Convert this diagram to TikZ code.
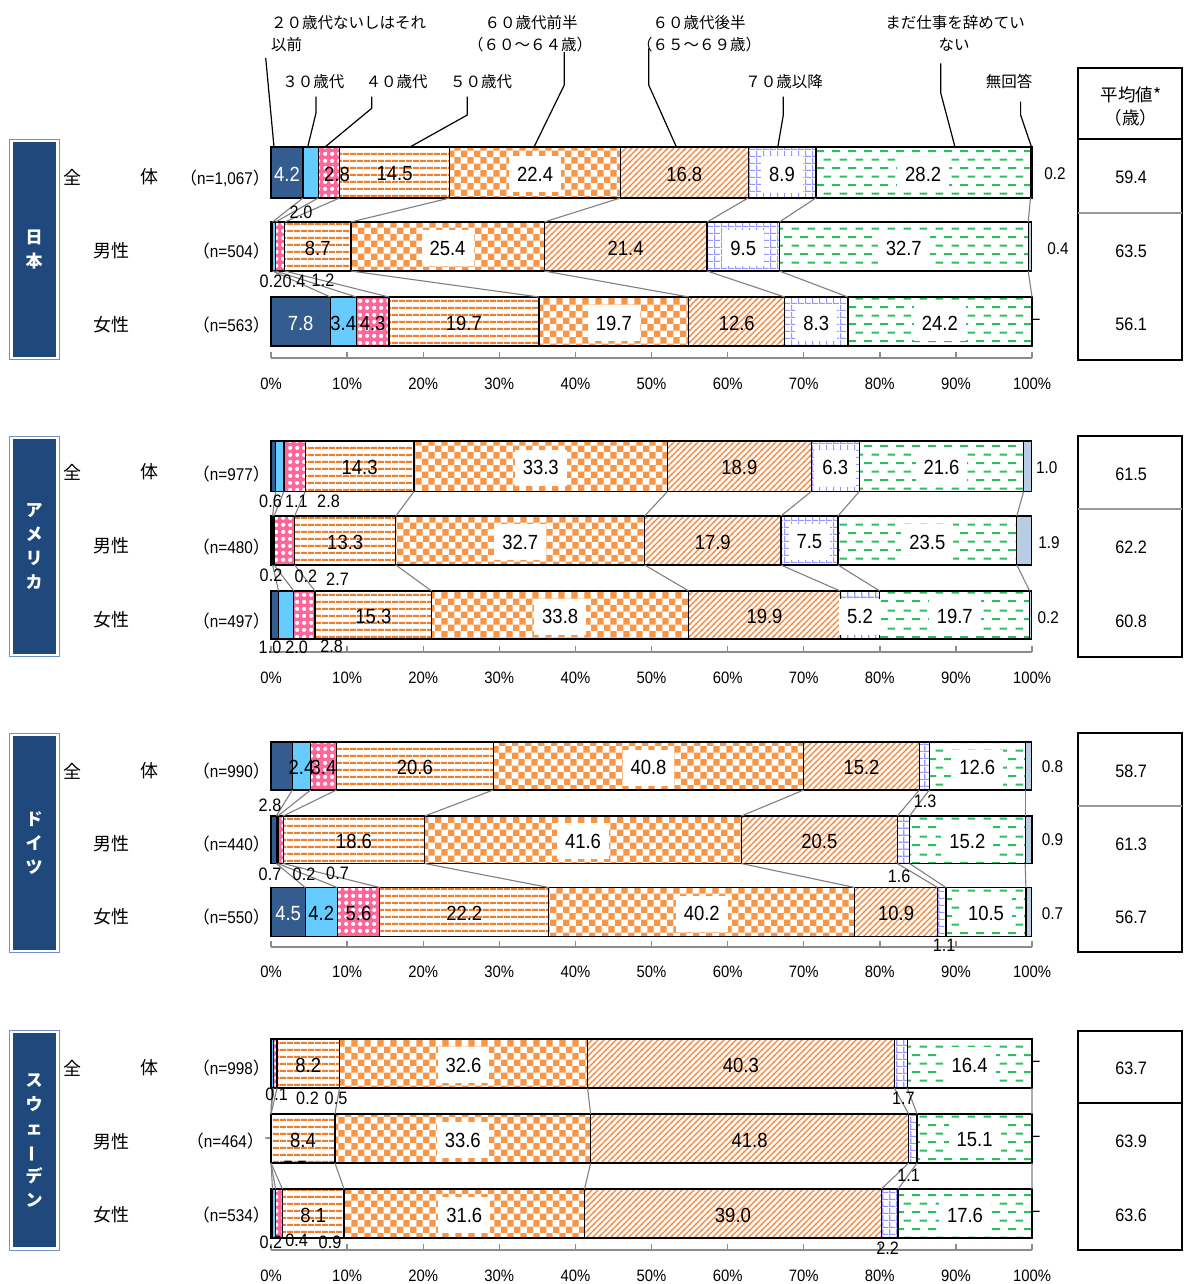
\documentclass[tikz,border=0pt]{standalone}
\usepackage{fontspec}
\setmainfont{Liberation Sans}
\newfontfamily\jp{Noto Sans CJK JP}
\newfontfamily\numf[FakeStretch=0.9]{Liberation Sans}
\usetikzlibrary{patterns}
\newcommand\fsz[1]{\fontsize{#1}{#1}\selectfont}
\definecolor{c1}{RGB}{52,92,142}
\definecolor{c2}{RGB}{102,204,255}
\definecolor{c3}{RGB}{255,102,153}
\definecolor{c4}{RGB}{240,125,40}
\definecolor{c5}{RGB}{247,150,70}
\definecolor{c6}{RGB}{240,135,60}
\definecolor{c7}{RGB}{150,150,255}
\definecolor{c8}{RGB}{45,190,95}
\definecolor{c9}{RGB}{185,205,228}
\definecolor{boxnavy}{RGB}{31,73,125}
\definecolor{boxedge}{RGB}{110,145,200}
\definecolor{sergray}{RGB}{128,128,128}
\definecolor{axisgray}{RGB}{140,140,140}
\pgfdeclarepatternformonly{hstripes}{\pgfpointorigin}{\pgfqpoint{7pt}{7pt}}{\pgfqpoint{7pt}{7pt}}{%
  \pgfpathrectangle{\pgfqpoint{0pt}{2.4pt}}{\pgfqpoint{7pt}{2.2pt}}\pgfusepath{fill}}
\pgfdeclarepatternformonly{checker}{\pgfpointorigin}{\pgfqpoint{12.8pt}{12.8pt}}{\pgfqpoint{12.8pt}{12.8pt}}{%
  \pgfpathrectangle{\pgfpointorigin}{\pgfqpoint{6.4pt}{6.4pt}}%
  \pgfpathrectangle{\pgfqpoint{6.4pt}{6.4pt}}{\pgfqpoint{6.4pt}{6.4pt}}\pgfusepath{fill}}
\pgfdeclarepatternformonly{diaghatch}{\pgfqpoint{-1pt}{-1pt}}{\pgfqpoint{7pt}{7pt}}{\pgfqpoint{6pt}{6pt}}{%
  \pgfsetlinewidth{1.1pt}\pgfpathmoveto{\pgfqpoint{-0.5pt}{-0.5pt}}\pgfpathlineto{\pgfqpoint{6.5pt}{6.5pt}}\pgfusepath{stroke}}
\pgfdeclarepatternformonly{gridp}{\pgfpointorigin}{\pgfqpoint{7pt}{7pt}}{\pgfqpoint{7pt}{7pt}}{%
  \pgfpathrectangle{\pgfpointorigin}{\pgfqpoint{7pt}{1.4pt}}%
  \pgfpathrectangle{\pgfpointorigin}{\pgfqpoint{1.4pt}{7pt}}\pgfusepath{fill}}
\pgfdeclarepatternformonly{gdash}{\pgfpointorigin}{\pgfqpoint{16pt}{17.4pt}}{\pgfqpoint{16pt}{17.4pt}}{%
  \pgfpathrectangle{\pgfqpoint{0pt}{3pt}}{\pgfqpoint{8.5pt}{2pt}}%
  \pgfpathrectangle{\pgfqpoint{8pt}{11.7pt}}{\pgfqpoint{8pt}{2pt}}\pgfusepath{fill}}
\pgfdeclarepatternformonly{bubbles}{\pgfpointorigin}{\pgfqpoint{7pt}{7pt}}{\pgfqpoint{7pt}{7pt}}{%
  \pgfpathcircle{\pgfqpoint{3.5pt}{3.5pt}}{2.3pt}\pgfusepath{fill}}
\newcommand\segpath[5]{%
  \ifcase#1\or
    \fill[c1] (#2,#4) rectangle (#3,#5);%
  \or
    \fill[c2] (#2,#4) rectangle (#3,#5);%
  \or
    \fill[c3] (#2,#4) rectangle (#3,#5);%
    \fill[pattern=bubbles,pattern color=white] (#2,#4) rectangle (#3,#5);%
  \or
    \fill[white] (#2,#4) rectangle (#3,#5);%
    \fill[pattern=hstripes,pattern color=c4] (#2,#4) rectangle (#3,#5);%
  \or
    \fill[white] (#2,#4) rectangle (#3,#5);%
    \fill[pattern=checker,pattern color=c5] (#2,#4) rectangle (#3,#5);%
  \or
    \fill[white] (#2,#4) rectangle (#3,#5);%
    \fill[pattern=diaghatch,pattern color=c6] (#2,#4) rectangle (#3,#5);%
  \or
    \fill[white] (#2,#4) rectangle (#3,#5);%
    \fill[pattern=gridp,pattern color=c7] (#2,#4) rectangle (#3,#5);%
  \or
    \fill[white] (#2,#4) rectangle (#3,#5);%
    \fill[pattern=gdash,pattern color=c8] (#2,#4) rectangle (#3,#5);%
  \or
    \fill[c9] (#2,#4) rectangle (#3,#5);%
  \fi}
\newcommand\drawbar[4]{%
  \gdef\cum{0}%
  \foreach \val [count=\i] in {#4} {%
    \pgfmathsetmacro\xa{271+7.61*\cum}%
    \pgfmathsetmacro\nc{\cum+\val}%
    \pgfmathsetmacro\xb{271+7.61*\nc}%
    \xdef\cum{\nc}%
    \segpath{\i}{\xa}{\xb}{#2}{#3}%
    \draw[segline] (\xa,#2) rectangle (\xb,#3);%
    \coordinate (#1-\i-t) at (\xb,#2);%
    \coordinate (#1-\i-b) at (\xb,#3);%
    \coordinate (#1-\i-c) at ({(\xa+\xb)/2},{(#2+#3)/2});%
  }%
}
\newcommand\ilab[4][vlab]{\node[#1] (L-#2-#3) at (#2-#3-c) {#4};}
\newcommand\serlines[2]{\foreach \k in {1,...,8} {\draw[serline] (#1-\k-b) -- (#2-\k-t);}}
\newcommand\drawaxis[3]{%
  \draw[axisline] (271,#2) -- (1032,#2);
  \foreach \k in {0,...,10} {%
    \pgfmathsetmacro\tx{271+76.1*\k}%
    \pgfmathtruncatemacro\pc{10*\k}%
    \draw[axisline] (\tx,{#2-5.6}) -- (\tx,#2);
    \node[alab] (#1-ax-\k) at (\tx,#3) {\pc\%};
  }}
\newcommand\rowlabs[4]{%
  \node[rlab] (#1-r1a) at (72,#2) {全};
  \node[rlab] (#1-r1b) at (149,#2) {体};
  \node[rlab] (#1-r2) at (111,#3) {男性};
  \node[rlab] (#1-r3) at (111,#4) {女性};}
\newcommand\cbox[4]{%
  \draw[boxedge, line width=0.9pt] (9.5,#2) rectangle (59.3,#3);
  \fill[boxnavy] (12.7,{#2+3}) rectangle (56,{#3-3});
  \node[ctext] (#1-ctry) at (34.2,{(#2+#3)/2}) {#4};}
\newcommand\meanframe[4]{%
  \draw[meanbox] (1078,#2) rectangle (1182,#3);
  \draw[#4, line width=2pt] (1078,#1) -- (1182,#1);}
\tikzset{
 segline/.style={line width=1.3pt, black},
 serline/.style={draw=sergray, line width=1.1pt},
 leader/.style={line width=1.2pt, black},
 vlab/.style={font=\numf\fsz{20.5}, inner sep=0pt, yshift=-1.5pt},
 wlab/.style={vlab, text=white},
 blab/.style={vlab, fill=white, inner xsep=8pt, inner ysep=0pt, minimum height=36pt},
 slab/.style={font=\numf\fsz{18}, inner sep=0pt},
 elab/.style={font=\numf\fsz{17}, inner sep=0pt},
 mlab/.style={font=\numf\fsz{18}, inner sep=0pt},
 alab/.style={font=\numf\fsz{16.5}, inner sep=0pt},
 nlab/.style={font=\numf\fsz{17}, inner sep=0pt, anchor=east},
 rlab/.style={font=\jp\fsz{18}, inner sep=0pt},
 glab/.style={font=\jp\fsz{15.5}, inner sep=0pt},
 ctext/.style={font=\jp\bfseries\fontsize{17}{24}\selectfont, text=white, align=center, inner sep=0pt},
 meanbox/.style={line width=2pt, black},
 axisline/.style={draw=axisgray, line width=1.4pt},
}
\begin{document}
\begin{tikzpicture}[x=1pt,y=-1pt]
\useasboundingbox (0,0) rectangle (1184,1284);
\fill[white] (0,0) rectangle (1184,1284);

% country boxes
\cbox{jp}{139.5}{359.5}{日\\本}
\cbox{us}{436}{656.5}{ア\\メ\\リ\\カ}
\cbox{de}{733}{952.5}{ド\\イ\\ツ}
\cbox{se}{1030}{1250}{ス\\ウ\\ェ\\\rotatebox[origin=c]{90}{ー}\\デ\\ン}

% row labels
\rowlabs{jp}{177}{251}{325}
\rowlabs{us}{472}{546}{620}
\rowlabs{de}{771}{844}{917}
\rowlabs{se}{1068}{1142}{1215}

\node[nlab] (n-jpA) at (270,178) {{\jp （}n=1,067{\jp ）}};
\node[nlab] (n-jpM) at (270,251.5) {{\jp （}n=504{\jp ）}};
\node[nlab] (n-jpF) at (270,325) {{\jp （}n=563{\jp ）}};
\node[nlab] (n-usA) at (270,474) {{\jp （}n=977{\jp ）}};
\node[nlab] (n-usM) at (270,547.5) {{\jp （}n=480{\jp ）}};
\node[nlab] (n-usF) at (270,621) {{\jp （}n=497{\jp ）}};
\node[nlab] (n-deA) at (270,771.5) {{\jp （}n=990{\jp ）}};
\node[nlab] (n-deM) at (270,844.5) {{\jp （}n=440{\jp ）}};
\node[nlab] (n-deF) at (270,917.5) {{\jp （}n=550{\jp ）}};
\node[nlab] (n-seA) at (270,1068.5) {{\jp （}n=998{\jp ）}};
\node[nlab] (n-seM) at (264,1141.5) {{\jp （}n=464{\jp ）}};
\node[nlab] (n-seF) at (270,1215) {{\jp （}n=534{\jp ）}};

% bars
\drawbar{jpA}{147}{198}{4.2,2.0,2.8,14.5,22.4,16.8,8.9,28.2,0.2}
\drawbar{jpM}{222}{271}{0.2,0.4,1.2,8.7,25.4,21.4,9.5,32.7,0.4}
\drawbar{jpF}{297}{346}{7.8,3.4,4.3,19.7,19.7,12.6,8.3,24.2,0}
\drawbar{usA}{441}{491.5}{0.6,1.1,2.8,14.3,33.3,18.9,6.3,21.6,1.0}
\drawbar{usM}{516}{565}{0.2,0.2,2.7,13.3,32.7,17.9,7.5,23.5,1.9}
\drawbar{usF}{591}{639}{1.0,2.0,2.8,15.3,33.8,19.9,5.2,19.7,0.2}
\drawbar{deA}{742}{790}{2.8,2.4,3.4,20.6,40.8,15.2,1.3,12.6,0.8}
\drawbar{deM}{816}{863.5}{0.7,0.2,0.7,18.6,41.6,20.5,1.6,15.2,0.9}
\drawbar{deF}{887.5}{936.5}{4.5,4.2,5.6,22.2,40.2,10.9,1.1,10.5,0.7}
\drawbar{seA}{1039}{1088}{0.1,0.2,0.5,8.2,32.6,40.3,1.7,16.4,0}
\drawbar{seM}{1114}{1163}{0,0,0,8.4,33.6,41.8,1.1,15.1,0}
\drawbar{seF}{1189}{1238}{0.2,0.4,0.9,8.1,31.6,39.0,2.2,17.6,0}

% series lines
\serlines{jpA}{jpM}\serlines{jpM}{jpF}
\serlines{usA}{usM}\serlines{usM}{usF}
\serlines{deA}{deM}\serlines{deM}{deF}
\serlines{seA}{seM}\serlines{seM}{seF}

% axes
\drawaxis{jp}{358}{383.5}
\drawaxis{us}{652}{677.5}
\drawaxis{de}{947}{972}
\drawaxis{se}{1250}{1275.5}

% Japan labels
\ilab[wlab]{jpA}{1}{4.2}
\node[vlab] (L-jpA-3) at (337,172.5) {2.8};
\ilab{jpA}{4}{14.5}\ilab[blab]{jpA}{5}{22.4}\ilab{jpA}{6}{16.8}
\ilab[blab]{jpA}{7}{8.9}\ilab[blab]{jpA}{8}{28.2}
\node[slab] (o-jpA-2) at (301,212) {2.0};
\node[elab] (o-jpA-9) at (1055,174) {0.2};
\ilab{jpM}{4}{8.7}\ilab[blab]{jpM}{5}{25.4}\ilab{jpM}{6}{21.4}
\ilab[blab]{jpM}{7}{9.5}\ilab[blab]{jpM}{8}{32.7}
\node[slab] (o-jpM-1) at (271,281.5) {0.2};
\node[slab] (o-jpM-2) at (294,281.5) {0.4};
\node[slab] (o-jpM-3) at (323,280.5) {1.2};
\node[elab] (o-jpM-9) at (1058,249) {0.4};
\ilab[wlab]{jpF}{1}{7.8}\ilab{jpF}{2}{3.4}\ilab{jpF}{3}{4.3}
\ilab{jpF}{4}{19.7}\ilab[blab]{jpF}{5}{19.7}\ilab{jpF}{6}{12.6}
\ilab[blab]{jpF}{7}{8.3}\ilab[blab]{jpF}{8}{24.2}
\node[elab] (o-jpF-9) at (1036,322) {−};

% America labels
\ilab{usA}{4}{14.3}\ilab[blab]{usA}{5}{33.3}\ilab{usA}{6}{18.9}
\ilab[blab]{usA}{7}{6.3}\ilab[blab]{usA}{8}{21.6}
\node[slab] (o-usA-1) at (270.5,501.5) {0.6};
\node[slab] (o-usA-2) at (296.3,501.5) {1.1};
\node[slab] (o-usA-3) at (328.5,501.5) {2.8};
\node[elab] (o-usA-9) at (1046.7,467.5) {1.0};
\ilab{usM}{4}{13.3}\ilab[blab]{usM}{5}{32.7}\ilab{usM}{6}{17.9}
\ilab[blab]{usM}{7}{7.5}\ilab[blab]{usM}{8}{23.5}
\node[slab] (o-usM-1) at (271,575.7) {0.2};
\node[slab] (o-usM-2) at (305.8,576.7) {0.2};
\node[slab] (o-usM-3) at (337.5,579) {2.7};
\node[elab] (o-usM-9) at (1049,542.7) {1.9};
\ilab{usF}{4}{15.3}\ilab[blab]{usF}{5}{33.8}\ilab{usF}{6}{19.9}
\ilab[blab]{usF}{7}{5.2}\ilab[blab]{usF}{8}{19.7}
\node[slab] (o-usF-1) at (270,647.3) {1.0};
\node[slab] (o-usF-2) at (296.7,647) {2.0};
\node[slab] (o-usF-3) at (331.7,646) {2.8};
\node[elab] (o-usF-9) at (1048.3,617.7) {0.2};

% Germany labels
\ilab{deA}{2}{2.4}\ilab{deA}{3}{3.4}
\ilab{deA}{4}{20.6}\ilab[blab]{deA}{5}{40.8}\ilab{deA}{6}{15.2}
\ilab[blab]{deA}{8}{12.6}
\node[slab] (o-deA-1) at (270,805) {2.8};
\node[slab] (o-deA-7) at (925,801) {1.3};
\node[elab] (o-deA-9) at (1052.5,767) {0.8};
\ilab{deM}{4}{18.6}\ilab[blab]{deM}{5}{41.6}\ilab{deM}{6}{20.5}
\ilab[blab]{deM}{8}{15.2}
\node[slab] (o-deM-1) at (270,874) {0.7};
\node[slab] (o-deM-2) at (304,874) {0.2};
\node[slab] (o-deM-3) at (337.5,873) {0.7};
\node[slab] (o-deM-7) at (899,876.7) {1.6};
\node[elab] (o-deM-9) at (1052.5,840) {0.9};
\ilab[wlab]{deF}{1}{4.5}\ilab{deF}{2}{4.2}\ilab{deF}{3}{5.6}
\ilab{deF}{4}{22.2}\ilab[blab]{deF}{5}{40.2}\ilab{deF}{6}{10.9}
\ilab[blab]{deF}{8}{10.5}
\node[slab] (o-deF-7) at (944,945) {1.1};
\node[elab] (o-deF-9) at (1052.5,913.3) {0.7};

% Sweden labels
\ilab{seA}{4}{8.2}\ilab[blab]{seA}{5}{32.6}\ilab{seA}{6}{40.3}
\ilab[blab]{seA}{8}{16.4}
\node[slab] (o-seA-1) at (276.7,1094) {0.1};
\node[slab] (o-seA-2) at (307.5,1098.3) {0.2};
\node[slab] (o-seA-3) at (336,1098) {0.5};
\node[slab] (o-seA-7) at (903.3,1098.3) {1.7};
\node[elab] (o-seA-9) at (1036,1064) {−};
\ilab{seM}{4}{8.4}\ilab[blab]{seM}{5}{33.6}\ilab{seM}{6}{41.8}
\ilab[blab]{seM}{8}{15.1}
\node[font=\numf\fsz{12}, inner sep=0pt] (o-seM-1) at (268,1140) {−};
\node[elab] (o-seM-2) at (288,1164) {−};
\node[elab] (o-seM-3) at (302,1164) {−};
\node[slab] (o-seM-7) at (908.7,1175) {1.1};
\node[elab] (o-seM-9) at (1036,1139) {−};
\ilab{seF}{4}{8.1}\ilab[blab]{seF}{5}{31.6}\ilab{seF}{6}{39.0}
\ilab[blab]{seF}{8}{17.6}
\node[slab] (o-seF-1) at (270.8,1242.3) {0.2};
\node[slab] (o-seF-2) at (296.7,1240.7) {0.4};
\node[slab] (o-seF-3) at (330,1242.7) {0.9};
\node[slab] (o-seF-7) at (887.5,1248.3) {2.2};
\node[elab] (o-seF-9) at (1036,1214) {−};

% legend texts
\node[glab, anchor=west] (t20a) at (271,22.7) {２０歳代ないしはそれ};
\node[glab, anchor=west] (t20b) at (271,45) {以前};
\node[glab] (t30) at (313.3,81.7) {３０歳代};
\node[glab] (t40) at (396.5,81.7) {４０歳代};
\node[glab] (t50) at (481,81.7) {５０歳代};
\node[glab] (t60a) at (531,22.7) {６０歳代前半};
\node[glab] (t60b) at (530,45) {（６０～６４歳）};
\node[glab] (t65a) at (699,22.7) {６０歳代後半};
\node[glab] (t65b) at (699,45) {（６５～６９歳）};
\node[glab] (t70) at (784,81.7) {７０歳以降};
\node[glab] (tnr1) at (955,22.7) {まだ仕事を辞めてい};
\node[glab] (tnr2) at (954,45) {ない};
\node[glab] (tna) at (1009,81.7) {無回答};

% leaders
\coordinate (g1a) at (265.7,58);   \coordinate (g1e) at (274,147);
\coordinate (g2a) at (316,96.7);   \coordinate (g2e) at (307.7,147);
\coordinate (g3a) at (371.7,96.7); \coordinate (g3e) at (325,147);
\coordinate (g4a) at (467.3,96.7); \coordinate (g4e) at (410,147);
\coordinate (g5a) at (564.3,52);   \coordinate (g5e) at (534,147);
\coordinate (g6a) at (648.7,48.3); \coordinate (g6e) at (676.4,147);
\coordinate (g7a) at (783.3,96.7); \coordinate (g7e) at (777.8,147);
\coordinate (g8a) at (940.8,63.3); \coordinate (g8e) at (955,147);
\coordinate (g9a) at (1020.6,101.7); \coordinate (g9e) at (1031.5,147);
\draw[leader] (g1a) -- (g1e);
\draw[leader] (g2a) -- ++(0,16.3) -- (g2e);
\draw[leader] (g3a) -- ++(0,11.6) -- (g3e);
\draw[leader] (g4a) -- ++(0,18.3) -- (g4e);
\draw[leader] (g5a) -- ++(0,33) -- (g5e);
\draw[leader] (g6a) -- ++(0,36.7) -- (g6e);
\draw[leader] (g7a) -- ++(0,18.3) -- (g7e);
\draw[leader] (g8a) -- ++(0,30) -- (g8e);
\draw[leader] (g9a) -- ++(0,13.3) -- (g9e);

% mean value boxes
\draw[meanbox] (1078,68.5) rectangle (1182,139.5);
\node[font=\jp\fsz{17.5}, inner sep=0pt] (hdr1) at (1131,95) {平均値*};
\node[font=\jp\fsz{17.5}, inner sep=0pt] (hdr2) at (1131,118.3) {（歳）};
\meanframe{213.3}{139.5}{359.5}{gray!80}
\meanframe{509.3}{436}{656.7}{gray!80}
\meanframe{806}{733.3}{951.7}{gray!80}
\meanframe{1103.3}{1030.7}{1250}{black}
\node[mlab] (m-jpA) at (1131,177) {59.4};
\node[mlab] (m-jpM) at (1131,251) {63.5};
\node[mlab] (m-jpF) at (1131,324.5) {56.1};
\node[mlab] (m-usA) at (1131,474) {61.5};
\node[mlab] (m-usM) at (1131,547) {62.2};
\node[mlab] (m-usF) at (1131,621) {60.8};
\node[mlab] (m-deA) at (1131,771) {58.7};
\node[mlab] (m-deM) at (1131,844) {61.3};
\node[mlab] (m-deF) at (1131,917) {56.7};
\node[mlab] (m-seA) at (1131,1068) {63.7};
\node[mlab] (m-seM) at (1131,1141) {63.9};
\node[mlab] (m-seF) at (1131,1215) {63.6};
\end{tikzpicture}
\end{document}
